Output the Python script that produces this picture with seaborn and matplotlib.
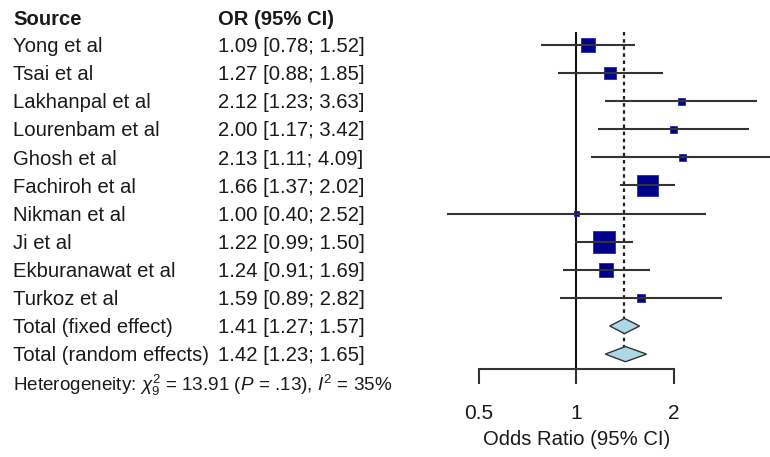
import numpy as np
import pandas as pd
import matplotlib
matplotlib.use("Agg")
import matplotlib.pyplot as plt
from matplotlib.ticker import NullLocator, FixedLocator, FixedFormatter
import seaborn as sns

# ---------------- data ----------------
studies = ["Yong et al", "Tsai et al", "Lakhanpal et al", "Lourenbam et al",
           "Ghosh et al", "Fachiroh et al", "Nikman et al", "Ji et al",
           "Ekburanawat et al", "Turkoz et al"]
or_est = [1.09, 1.27, 2.12, 2.00, 2.13, 1.66, 1.00, 1.22, 1.24, 1.59]
ci_low = [0.78, 0.88, 1.23, 1.17, 1.11, 1.37, 0.40, 0.99, 0.91, 0.89]
ci_high = [1.52, 1.85, 3.63, 3.42, 4.09, 2.02, 2.52, 1.50, 1.69, 2.82]
weights = [11.5, 8.5, 2.9, 3.3, 2.5, 26.0, 1.5, 28.5, 11.5, 3.8]  # estimated from square areas

pooled_labels = ["Total (fixed effect)", "Total (random effects)"]
pooled_est = [1.41, 1.42]
pooled_low = [1.27, 1.23]
pooled_high = [1.57, 1.65]

x_ticks = [0.5, 1, 2]
x_tick_labels = ["0.5", "1", "2"]
header_source = "Source"
header_or = "OR (95% CI)"
x_label = "Odds Ratio (95% CI)"
heterogeneity = r"Heterogeneity: $\chi^2_9$ = 13.91 ($P$ = .13), $I^2$ = 35%"

# ---------------- style ----------------
sns.set_theme(style="white")
plt.rcParams["font.family"] = ["Liberation Sans", "DejaVu Sans"]
plt.rcParams["mathtext.fontset"] = "custom"
plt.rcParams["mathtext.rm"] = "Liberation Sans"
plt.rcParams["mathtext.it"] = "Liberation Sans:italic"
plt.rcParams["mathtext.bf"] = "Liberation Sans:bold"

fig = plt.figure(figsize=(7.7, 4.57), dpi=100)
ax = fig.add_axes([0, 0, 1, 1])
ax.set_facecolor("white")
ax.set_xscale("log")
ax.set_xlim(0.0166, 3.97)
ax.set_ylim(14.66, -1.60)

n = len(studies)
df = pd.DataFrame({"study": studies, "est": or_est, "lo": ci_low, "hi": ci_high,
                   "w": weights, "row": np.arange(n)})
pooled_rows = np.arange(n, n + len(pooled_labels))

line_col = "#333333"
text_col = "#1a1a1a"

# reference lines
ax.vlines(1, -0.46, 11.53, color="#111111", lw=1.5, zorder=1)
ax.vlines(pooled_est[0], -0.46, pooled_rows[-1] - 0.25, color="#222222",
          lw=1.6, linestyles=(0, (1.6, 1.6)), zorder=1)

# study squares
s_max = (22 * 0.72) ** 2
sns.scatterplot(data=df, x="est", y="row", size="w", sizes=(0, s_max),
                size_norm=(0, max(weights)), marker="s", color="#00008B",
                edgecolor="#2a2ab0", linewidth=0.6, legend=False, ax=ax, zorder=2)
# CI lines
ax.hlines(df["row"], df["lo"], df["hi"], color=line_col, lw=1.5, zorder=3)

# pooled diamonds
for r, e, lo, hi in zip(pooled_rows, pooled_est, pooled_low, pooled_high):
    h = 0.27
    ax.fill([lo, e, hi, e], [r, r - h, r, r + h], facecolor="#ADD8E6",
            edgecolor="#333333", lw=1.0, zorder=3)

# text columns
tr = ax.get_yaxis_transform()
x_src, x_or = 13 / 770, 218 / 770
fs = 14.6
ax.text(x_src, -0.89, header_source, transform=tr, fontsize=fs, fontweight="bold",
        va="center", ha="left", color=text_col)
ax.text(x_or, -0.89, header_or, transform=tr, fontsize=fs, fontweight="bold",
        va="center", ha="left", color=text_col)
all_labels = studies + pooled_labels
all_est = or_est + pooled_est
all_lo = ci_low + pooled_low
all_hi = ci_high + pooled_high
for i, (lab, e, lo, hi) in enumerate(zip(all_labels, all_est, all_lo, all_hi)):
    ax.text(x_src, i + 0.06, lab, transform=tr, fontsize=fs, va="center",
            ha="left", color=text_col)
    ax.text(x_or, i + 0.06, f"{e:.2f} [{lo:.2f}; {hi:.2f}]", transform=tr,
            fontsize=fs, va="center", ha="left", color=text_col)
ax.text(x_src, 12.1, heterogeneity, transform=tr, fontsize=13.6, va="center",
        ha="left", color=text_col)

# x axis as bracket
for sp in ["top", "left", "right"]:
    ax.spines[sp].set_visible(False)
ax.spines["bottom"].set_position(("data", 11.53))
ax.spines["bottom"].set_bounds(x_ticks[0], x_ticks[-1])
ax.spines["bottom"].set_color("#333333")
ax.spines["bottom"].set_linewidth(1.5)
ax.xaxis.set_major_locator(FixedLocator(x_ticks))
ax.xaxis.set_major_formatter(FixedFormatter(x_tick_labels))
ax.xaxis.set_minor_locator(NullLocator())
ax.tick_params(axis="x", which="major", bottom=True, direction="out", length=10.5,
               width=1.5, color="#333333", labelsize=15, pad=15, labelcolor=text_col)
ax.set_yticks([])
ax.set_ylabel("")
ax.set_xlabel("")
ax.text(1, 14.05, x_label, fontsize=14.6, ha="center", va="center", color=text_col)

fig.savefig("out.png", dpi=100, facecolor="white")
